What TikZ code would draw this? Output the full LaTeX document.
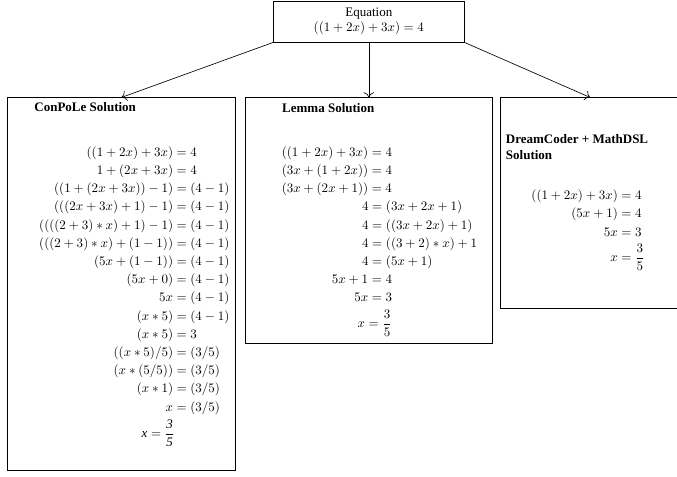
\documentclass[tikz,border=0pt]{standalone}
\usepackage{amsmath}
\usepackage[no-math]{fontspec}
\setmainfont{Liberation Serif}
\usetikzlibrary{arrows.meta,positioning}
\setlength{\jot}{2.0pt}
\tikzset{
  panel/.style={draw,line width=.5pt,anchor=north},
  headbox/.style={draw,line width=.5pt,align=center,minimum width=5.14cm,minimum height=1.11cm},
  title/.style={anchor=north west,inner sep=0pt,font=\bfseries,align=left},
  steps/.style={anchor=north west,inner sep=0pt},
  link/.style={-{To[length=1.4mm,width=2.8mm]},line width=.5pt},
}

\begin{document}
\begin{tikzpicture}
  \useasboundingbox (0,0) rectangle (18.30,-12.87);
  % problem on top
  \node[headbox] (eq) at (9.97,-0.58) {Equation\\$((1+2x)+3x)=4$};
  % the three solution panels
  \node[panel,minimum width=6.70cm,minimum height=6.65cm,below=1.49cm of eq] (lemma) {};
  \node[panel,minimum width=6.16cm,minimum height=10.06cm,anchor=north east] (conpole) at ([xshift=-0.24cm]lemma.north west) {};
  \node[panel,minimum width=4.85cm,minimum height=5.68cm,anchor=north west] (dream) at ([xshift=0.19cm]lemma.north east) {};
  \node[title] (conpoleT) at ([xshift=0.73cm,yshift=-0.14cm]conpole.north west) {ConPoLe Solution};
  \node[title] (lemmaT) at ([xshift=1.01cm,yshift=-0.16cm]lemma.north west) {Lemma Solution};
  \node[title] (dreamT) at ([xshift=0.15cm,yshift=-1.0cm]dream.north west) {DreamCoder + MathDSL\\Solution};
  \node[steps] (conpoleEq) at ([xshift=0.86cm,yshift=-1.29cm]conpole.north west) {$\begin{aligned}
      ((1+2x)+3x) &= 4\\
      1+(2x+3x) &= 4\\
      ((1+(2x+3x))-1) &= (4-1)\\
      (((2x+3x)+1)-1) &= (4-1)\\
      ((((2+3)*x)+1)-1) &= (4-1)\\
      (((2+3)*x)+(1-1)) &= (4-1)\\
      (5x+(1-1)) &= (4-1)\\
      (5x+0) &= (4-1)\\
      5x &= (4-1)\\
      (x*5) &= (4-1)\\
      (x*5) &= 3\\
      ((x*5)/5) &= (3/5)\\
      (x*(5/5)) &= (3/5)\\
      (x*1) &= (3/5)\\
      x &= (3/5)
    \end{aligned}$};
  \node (conpoleEnd) at ([xshift=4.08cm,yshift=-9.08cm]conpole.north west) {$\textit{x}=\dfrac{\textit{3}}{\textit{5}}$};
  \node[steps] (lemmaEq) at ([xshift=1.0cm,yshift=-1.29cm]lemma.north west) {$\begin{aligned}
      ((1+2x)+3x)=4 &\\
      (3x+(1+2x))=4 &\\
      (3x+(2x+1))=4 &\\
      &\hspace{-23pt}4=(3x+2x+1)\\
      &\hspace{-23pt}4=((3x+2x)+1)\\
      &\hspace{-23pt}4=((3+2)*x)+1\\
      &\hspace{-23pt}4=(5x+1)\\
      5x+1=4 &\\
      5x=3 &\\
      x=\frac{3}{5} &
    \end{aligned}$};
  \node[steps] (dreamEq) at ([xshift=0.84cm,yshift=-2.46cm]dream.north west) {$\begin{aligned}
      ((1+2x)+3x) &= 4\\
      (5x+1) &= 4\\
      5x &= 3\\
      x &= \frac{3}{5}
    \end{aligned}$};
  % arrows
  \draw[link] (eq.south west) -- (conpole.north);
  \draw[link] (eq.south) -- (lemma.north);
  \draw[link] (eq.south east) -- (dream.north);
\end{tikzpicture}
\end{document}
